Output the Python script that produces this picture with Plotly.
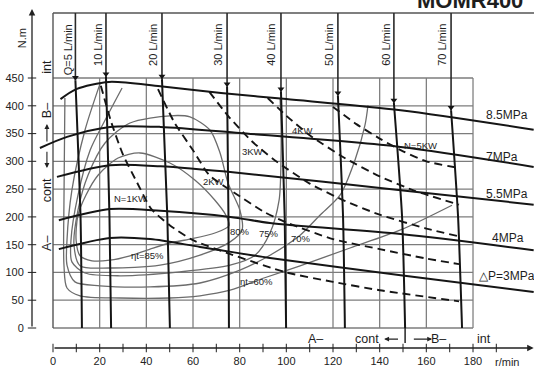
import plotly.graph_objects as go

# ---------------- data ----------------
x_tick_vals = [0, 20, 40, 60, 80, 100, 120, 140, 160, 180]
x_tick_marks = [0, 10, 20, 30, 40, 50, 60, 70, 80, 90, 100, 110, 120, 130, 140, 150, 160, 170, 180, 190]
y_tick_vals = [0, 50, 100, 150, 200, 250, 300, 350, 400, 450]

grid_speeds = [20, 40, 60, 80, 100, 120, 140, 160, 180]
grid_torques = [50, 100, 150, 200, 250, 300, 350, 400]
speed_max = 180
torque_max = 450
chart_top = 567

# constant pressure lines (speed r/min, torque N.m)
pressure_labels = ["8.5MPa", "7MPa", "5.5MPa", "4MPa", "△P=3MPa"]
p85_speed = [3.2, 10, 24, 46, 72, 100, 149, 206]
p85_torque = [412, 430, 443, 435, 423, 412, 392, 357]
p7_speed = [-5.6, 6, 24.4, 46, 80, 149, 206]
p7_torque = [324, 344, 362, 362, 351, 326, 290]
p55_speed = [1.7, 24.4, 46, 80, 149, 206]
p55_torque = [272, 293, 291, 279, 248, 222]
p4_speed = [2.5, 24.4, 46, 76, 93, 149, 206]
p4_torque = [194, 214, 211, 200, 189, 169, 140]
p3_speed = [2.5, 24.4, 41.6, 63, 93, 149, 206]
p3_torque = [142, 162, 160, 146, 126, 95, 65]
pressure_label_speed = [184.7, 184.7, 184.7, 187.3, 181.7]
pressure_label_torque = [383, 308, 241, 162, 94]

# flow lines
flow_labels = ["Q=5 L/min", "10 L/min", "20 L/min", "30 L/min", "40 L/min", "50 L/min", "60 L/min", "70 L/min"]
flow_top_speed = [9.6, 22.7, 46.7, 74.6, 97.7, 122.1, 146.1, 170.6]
flow_arrow_torque = [446, 452, 448, 434, 425, 418, 405, 392]
flow_mid_speed = [11.8, 24.2, 49.0, 75.2, 99.3, 124.3, 149.6, 173.6]
flow_bottom_speed = [12.4, 24.9, 50.1, 75.4, 99.9, 125.1, 150.9, 175.3]
flow_label_speed = [6.4, 19.3, 42.9, 70.7, 93.4, 118.3, 142.7, 166.7]

# constant power lines (dashed)
power_labels = ["N=1KW", "2KW", "3KW", "4KW", "N=5KW"]
n1_speed = [20.5, 25, 30, 36, 42, 50, 60, 76, 100, 120, 140, 174]
n1_torque = [436, 370, 312, 262, 215, 185, 158, 133, 100, 83, 68, 48]
n2_speed = [45, 52, 60, 67, 79, 90, 100, 120, 140, 160, 174]
n2_torque = [430, 370, 320, 275, 240, 210, 190, 160, 142, 125, 115]
n3_speed = [67, 75, 85, 95, 110, 125, 140, 160, 174]
n3_torque = [425, 382, 337, 302, 260, 229, 204, 179, 165]
n4_speed = [92, 100, 110, 125, 140, 155, 174]
n4_torque = [414, 382, 347, 306, 273, 247, 222]
n5_speed = [120, 130, 140, 150, 160, 174]
n5_torque = [398, 367, 341, 318, 300, 288]
power_label_speed = [33.4, 68.6, 85.7, 107.1, 157.3]
power_label_torque = [234, 263, 317, 356, 329]

# total efficiency curves
eff_labels = ["ηt=85%", "80%", "75%", "70%", "ηt=60%"]
e85_speed = [37.3, 50.1, 60.9, 69.4, 74.1, 75.4, 69.4, 58.7, 50.1, 41.6, 33.0, 24.4, 16.7, 11.6, 9.9, 10.7, 14.1, 19.3, 27.9, 37.3]
e85_torque = [315, 297, 266, 230, 203, 184, 171, 160, 153, 142, 130, 122, 121, 130, 158, 203, 239, 275, 306, 315]
e80_speed = [50.1, 58.7, 67.3, 71.6, 75.0, 80.1, 81.0, 75.9, 63.0, 45.9, 24.4, 11.6, 9.0, 10.7, 15.0, 22.3, 33.0, 50.1]
e80_torque = [382, 380, 356, 315, 261, 212, 176, 155, 131, 113, 108, 112, 149, 212, 275, 333, 369, 382]
e75_speed = [29.6, 22.3, 15.9, 10.7, 7.7, 8.1, 13.7, 28.7, 54.4, 75.9, 86.6, 93.0, 96.9, 97.7, 97.7, 97.3]
e75_torque = [432, 374, 320, 239, 158, 119, 99, 94, 101, 113, 131, 171, 230, 302, 374, 414]
e70_speed = [20.1, 13.7, 8.1, 6.0, 6.0, 9.4, 20.1, 41.6, 63.0, 80.1, 93.0, 105.9, 114.4, 123.0, 129.4, 133.7, 135.0]
e70_torque = [439, 356, 248, 158, 113, 83, 76, 74, 81, 104, 131, 167, 203, 239, 302, 365, 401]
e60_speed = [5.1, 4.7, 4.7, 6.0, 11.6, 28.7, 50.1, 63.0, 75.9, 90.4, 105.9, 127.3, 148.7, 171.0]
e60_torque = [414, 230, 113, 72, 58, 54, 54, 58, 68, 90, 112, 144, 176, 221]
eff_label_speed = [40.7, 80.1, 92.6, 106.3, 87.0]
eff_label_torque = [131, 173, 171, 162, 83]

# ---------------- figure ----------------
FONT = "Liberation Sans, Arial, sans-serif"
BLACK = "#151515"
GRID = "#7c7c7c"
EFF = "#6c6c6c"

fig = go.Figure()

def line(x, y, color, width, dash="solid", shape="linear", smoothing=1.0):
    fig.add_trace(go.Scatter(x=x, y=y, mode="lines", hoverinfo="skip",
                             line=dict(color=color, width=width, dash=dash, shape=shape,
                                       smoothing=smoothing)))

# grid
for s in grid_speeds:
    line([s, s], [0, torque_max], GRID, 1.25)
for t in grid_torques:
    line([0, speed_max], [t, t], GRID, 1.25)
line([0, speed_max], [torque_max, torque_max], GRID, 1.3)
line([0, speed_max], [0, 0], GRID, 1.3)
line([0, 0], [0, chart_top], "#555", 1.4)
line([0, 206.2], [chart_top, chart_top], "#555", 1.4)

# efficiency curves
for sx, ty in [(e85_speed, e85_torque), (e80_speed, e80_torque), (e75_speed, e75_torque),
               (e70_speed, e70_torque), (e60_speed, e60_torque)]:
    line(sx, ty, EFF, 1.3, shape="spline", smoothing=0.8)

# power lines
for sx, ty in [(n1_speed, n1_torque), (n2_speed, n2_torque), (n3_speed, n3_torque),
               (n4_speed, n4_torque), (n5_speed, n5_torque)]:
    line(sx, ty, BLACK, 1.9, dash="8px,5px", shape="spline", smoothing=0.6)

# pressure lines
for sx, ty in [(p85_speed, p85_torque), (p7_speed, p7_torque), (p55_speed, p55_torque),
               (p4_speed, p4_torque), (p3_speed, p3_torque)]:
    line(sx, ty, BLACK, 2.0, shape="spline", smoothing=0.8)

# flow lines
for i in range(len(flow_labels)):
    line([flow_top_speed[i], flow_top_speed[i]], [chart_top, flow_arrow_torque[i]], "#2a2a2a", 1.6)
    line([flow_top_speed[i], flow_mid_speed[i], flow_bottom_speed[i]],
         [flow_arrow_torque[i], 200, 0], BLACK, 2.0, shape="spline", smoothing=0.6)
# divider below 60 L/min line
line([flow_bottom_speed[6], flow_bottom_speed[6]], [0, -27], BLACK, 1.4)

fig.add_trace(go.Scatter(x=flow_top_speed, y=[t + 5 for t in flow_arrow_torque], mode="markers",
                         hoverinfo="skip",
                         marker=dict(symbol="triangle-down", size=6, color=BLACK)))

# axis tick marks
fig.add_trace(go.Scatter(x=x_tick_marks, y=[-36] * len(x_tick_marks), mode="markers",
                         cliponaxis=False, hoverinfo="skip",
                         marker=dict(symbol="line-ns", size=6, line=dict(color="#333", width=1.1))))
fig.add_trace(go.Scatter(x=[-9.0] * len(y_tick_vals), y=y_tick_vals, mode="markers",
                         cliponaxis=False, hoverinfo="skip",
                         marker=dict(symbol="line-ew", size=6, line=dict(color="#333", width=1.1))))

ann = []
def text(x, y, s, size=11, angle=0, xanchor="center", yanchor="middle", xref="x", yref="y", bold=False, color="#1e1e1e"):
    ann.append(dict(x=x, y=y, xref=xref, yref=yref, text=("<b>%s</b>" % s) if bold else s,
                    showarrow=False, textangle=angle, xanchor=xanchor, yanchor=yanchor,
                    font=dict(family=FONT, size=size, color=color)))

for i, s in enumerate(flow_labels):
    text(flow_label_speed[i], 551, s, size=11, angle=-90, yanchor="top")
for i, s in enumerate(pressure_labels):
    text(pressure_label_speed[i], pressure_label_torque[i], s, size=12, xanchor="left")
for i, s in enumerate(power_labels):
    text(power_label_speed[i], power_label_torque[i], s, size=9.5)
for i, s in enumerate(eff_labels):
    text(eff_label_speed[i], eff_label_torque[i], s, size=9.5)

# region labels along bottom
text(112.7, -20, "A–", size=12.5)
text(134.6, -20, "cont", size=12.5)
text(165.4, -20, "B–", size=12.5)
text(184.7, -20, "int", size=12.5)
# region labels along left
text(-2.6, 470, "int", size=12.5, angle=-90)
text(-2.6, 392, "B–", size=12.5, angle=-90)
text(-2.6, 248, "cont", size=12.5, angle=-90)
text(-2.6, 153, "A–", size=12.5, angle=-90)

text(0.946, -0.040, "r/min", size=11, xref="paper", yref="paper")
text(-0.016, 0.89, "N.m", size=11, angle=-90, xref="paper", yref="paper")
text(0.873, 1.0, "MOMR400", size=22, bold=True, xref="paper", yref="paper")

def arrow(x, y, ax, ay, width=1.2, head=2, size=1.0):
    ann.append(dict(x=x, y=y, ax=ax, ay=ay, xref="x", yref="y", axref="x", ayref="y",
                    text="", showarrow=True, arrowhead=head, arrowsize=size,
                    arrowwidth=width, arrowcolor="#222"))

arrow(-9.0, 574, -9.0, 0, width=1.3)          # torque axis
arrow(206.0, -36, 0, -36, width=1.3)          # speed axis
arrow(141.9, -20, 148.5, -20, width=1.1, size=0.9)   # cont <-
arrow(162.5, -20, 154.0, -20, width=1.1, size=0.9)   # -> B
arrow(-2.6, 367, -2.6, 333, width=1.1, size=0.9)     # up to B
arrow(-2.6, 288, -2.6, 320, width=1.1, size=0.9)     # down to cont

fig.update_layout(
    width=534, height=367,
    margin=dict(l=30, r=0, t=0, b=19),
    paper_bgcolor="white", plot_bgcolor="white",
    showlegend=False,
    annotations=ann,
    xaxis=dict(range=[-9.857, 206.14], tickvals=x_tick_vals, showgrid=False, zeroline=False,
               showline=False, ticks="outside", ticklen=3, tickcolor="rgba(0,0,0,0)",
               tickfont=dict(family=FONT, size=11, color="#222")),
    yaxis=dict(range=[-36, 590.4], tickvals=y_tick_vals, showgrid=False, zeroline=False,
               showline=False, ticks="outside", ticklen=3, tickcolor="rgba(0,0,0,0)",
               tickfont=dict(family=FONT, size=11, color="#222")),
)

fig.write_html("out.html", config={"displayModeBar": False},
               post_script="document.body.style.margin='0';document.body.style.overflow='hidden';")
